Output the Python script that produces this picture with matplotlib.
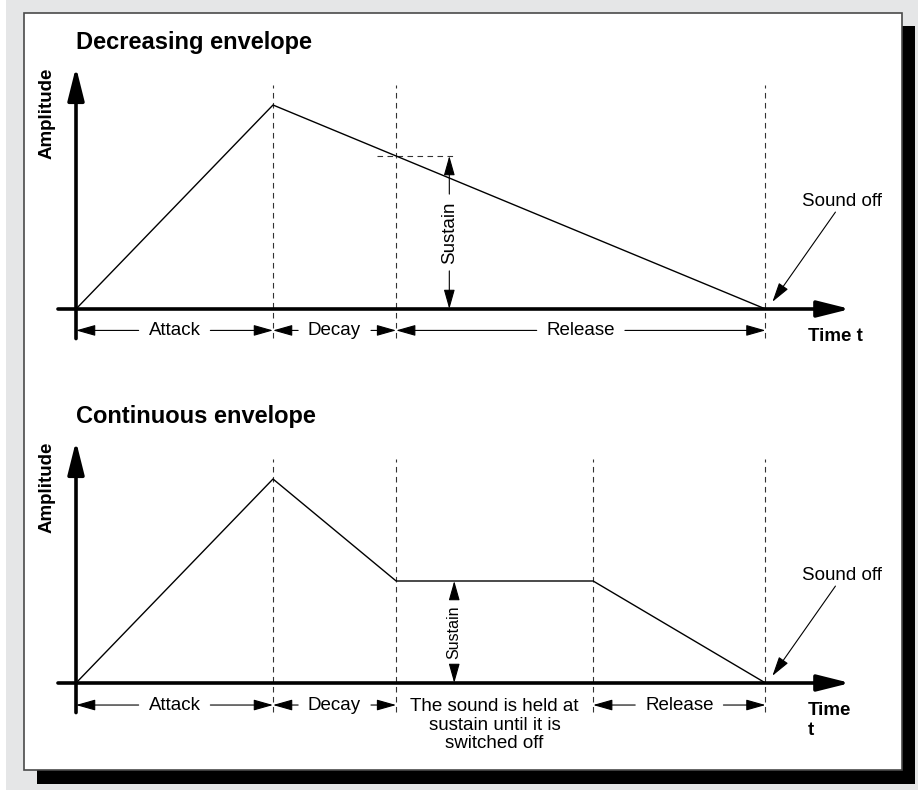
#!/usr/bin/python
"""
ADSR envelope diagrams: decreasing and continuous envelope.
Output is written to out.png in the current directory.
"""

import matplotlib
matplotlib.use("Agg")
import matplotlib.pyplot as plt
from matplotlib.patches import Rectangle


# ============================================================================ #
# DATA
# ============================================================================ #
# decreasing envelope: attack, decay then straight release to zero
dec_times = [0.0, 2.0, 7.0]
dec_amps = [0.0, 1.0, 0.0]
dec_marks = [2.0, 3.25, 7.0]              # dashed phase boundaries
dec_sustain_t = 3.79                      # where the sustain arrow sits
dec_sustain_level = 0.75
dec_sustain_guide = [3.06, 3.85]          # horizontal dashed guide
dec_phases = [("Attack", 0.0, 2.0), ("Decay", 2.0, 3.25),
              ("Release", 3.25, 7.0)]

# continuous envelope: attack, decay, held sustain, release
con_times = [0.0, 2.0, 3.25, 5.25, 7.0]
con_amps = [0.0, 1.0, 0.5, 0.5, 0.0]
con_marks = [2.0, 3.25, 5.25, 7.0]
con_sustain_t = 3.84
con_sustain_level = 0.5
con_phases = [("Attack", 0.0, 2.0), ("Decay", 2.0, 3.25),
              ("Release", 5.25, 7.0)]
con_hold_text = "The sound is held at\nsustain until it is\nswitched off"
con_hold_span = (3.25, 5.25)

titles = ["Decreasing envelope", "Continuous envelope"]
time_labels = ["Time t", "Time\nt"]


# ============================================================================ #
# LAYOUT
# ============================================================================ #
W, H = 918, 790
PX_T = 98.5          # pixels per time unit
PX_A = 204.0         # pixels per amplitude unit
X0 = 76              # pixel column of t = 0
BG = "#e5e6e7"

plt.rcParams["font.family"] = ["Liberation Sans", "DejaVu Sans"]

fig = plt.figure(figsize=(W / 100, H / 100), dpi=100)
fig.patch.set_facecolor("white")

bg = fig.add_axes([0, 0, 1, 1])
bg.set_xlim(0, W)
bg.set_ylim(H, 0)
bg.axis("off")
bg.add_patch(Rectangle((6, 0), W - 6, H, facecolor=BG, edgecolor="none"))
bg.add_patch(Rectangle((37, 26), 878, 758, facecolor="black",
                       edgecolor="none"))
bg.add_patch(Rectangle((24, 13), 878, 757, facecolor="white",
                       edgecolor="#4a4a4a", lw=1.2))

renderer = fig.canvas.get_renderer()


# ============================================================================ #
# FUNCTIONS
# ============================================================================ #
def make_axes(top_px, bottom_px, origin_px):
    ax = fig.add_axes([24 / W, 1 - bottom_px / H, 878 / W,
                       (bottom_px - top_px) / H])
    ax.set_xlim((24 - X0) / PX_T, (902 - X0) / PX_T)
    ax.set_ylim((origin_px - bottom_px) / PX_A, (origin_px - top_px) / PX_A)
    ax.axis("off")
    ax.patch.set_alpha(0)
    return ax


def arrow(ax, start, tip, lw=0.8, hl=1.2, hw=0.34, scale=10):
    ax.annotate("", xy=tip, xytext=start,
                arrowprops=dict(arrowstyle="-|>,head_length=%s,head_width=%s"
                                % (hl, hw), lw=lw, color="black",
                                shrinkA=0, shrinkB=0, mutation_scale=scale),
                annotation_clip=False)


def text_extent(ax, txt):
    bb = txt.get_window_extent(renderer=renderer)
    inv = ax.transData.inverted()
    (x0, y0), (x1, y1) = inv.transform([(bb.x0, bb.y0), (bb.x1, bb.y1)])
    return x0, x1, y0, y1


def dimension(ax, label, a, b, y, gap=0.1):
    txt = ax.text((a + b) / 2, y, label, ha="center", va="center",
                  fontsize=13.5)
    x0, x1, _, _ = text_extent(ax, txt)
    arrow(ax, (x0 - gap, y), (a, y))
    arrow(ax, (x1 + gap, y), (b, y))


def sustain_arrow(ax, t, level, fontsize, gap=0.035):
    txt = ax.text(t, level / 2, "Sustain", ha="center", va="center",
                  rotation=90, fontsize=fontsize)
    _, _, y0, y1 = text_extent(ax, txt)
    arrow(ax, (t, y1 + gap), (t, level))
    arrow(ax, (t, y0 - gap), (t, 0.0))


def draw_axes(ax, title, time_label):
    ax.text(0.0, 1.304, title, ha="left", va="center", fontsize=17,
            fontweight="bold")
    ax.text(-0.294, 1.185, "Amplitude", ha="center", va="top", rotation=90,
            fontsize=13.5, fontweight="bold")
    arrow(ax, (0.0, -0.145), (0.0, 1.186), lw=2.6, hl=2.0, hw=0.5)
    arrow(ax, (-0.183, 0.0), (7.86, 0.0), lw=2.6, hl=2.0, hw=0.5)
    ax.text(7.43, -0.093, time_label, ha="left", va="top", fontsize=13.5,
            fontweight="bold", linespacing=1.2)
    ax.text(7.78, 0.525, "Sound off", ha="center", va="center",
            fontsize=13.5)
    arrow(ax, (7.71, 0.475), (7.07, 0.035))


def dashed_marks(ax, marks):
    for t in marks:
        ax.plot([t, t], [-0.14, 1.1], color="#333333", lw=0.8,
                dashes=(5, 4), clip_on=False)


# ============================================================================ #
# MAIN BLOCK
# ============================================================================ #
ax1 = make_axes(13, 390, 309)
dashed_marks(ax1, dec_marks)
ax1.plot(dec_sustain_guide, [dec_sustain_level] * 2, color="#333333",
         lw=0.8, dashes=(5, 4))
ax1.plot(dec_times, dec_amps, color="black", lw=1.0)
draw_axes(ax1, titles[0], time_labels[0])
for label, a, b in dec_phases:
    dimension(ax1, label, a, b, -0.105)
sustain_arrow(ax1, dec_sustain_t, dec_sustain_level, 13.5)

ax2 = make_axes(390, 770, 683)
dashed_marks(ax2, con_marks)
ax2.plot(con_times, con_amps, color="black", lw=1.0)
draw_axes(ax2, titles[1], time_labels[1])
for label, a, b in con_phases:
    dimension(ax2, label, a, b, -0.108)
ax2.text(sum(con_hold_span) / 2, -0.206, con_hold_text, ha="center",
         va="center", fontsize=13.5, linespacing=1.15)
sustain_arrow(ax2, con_sustain_t, con_sustain_level, 11.5)

fig.savefig("out.png", dpi=100)
